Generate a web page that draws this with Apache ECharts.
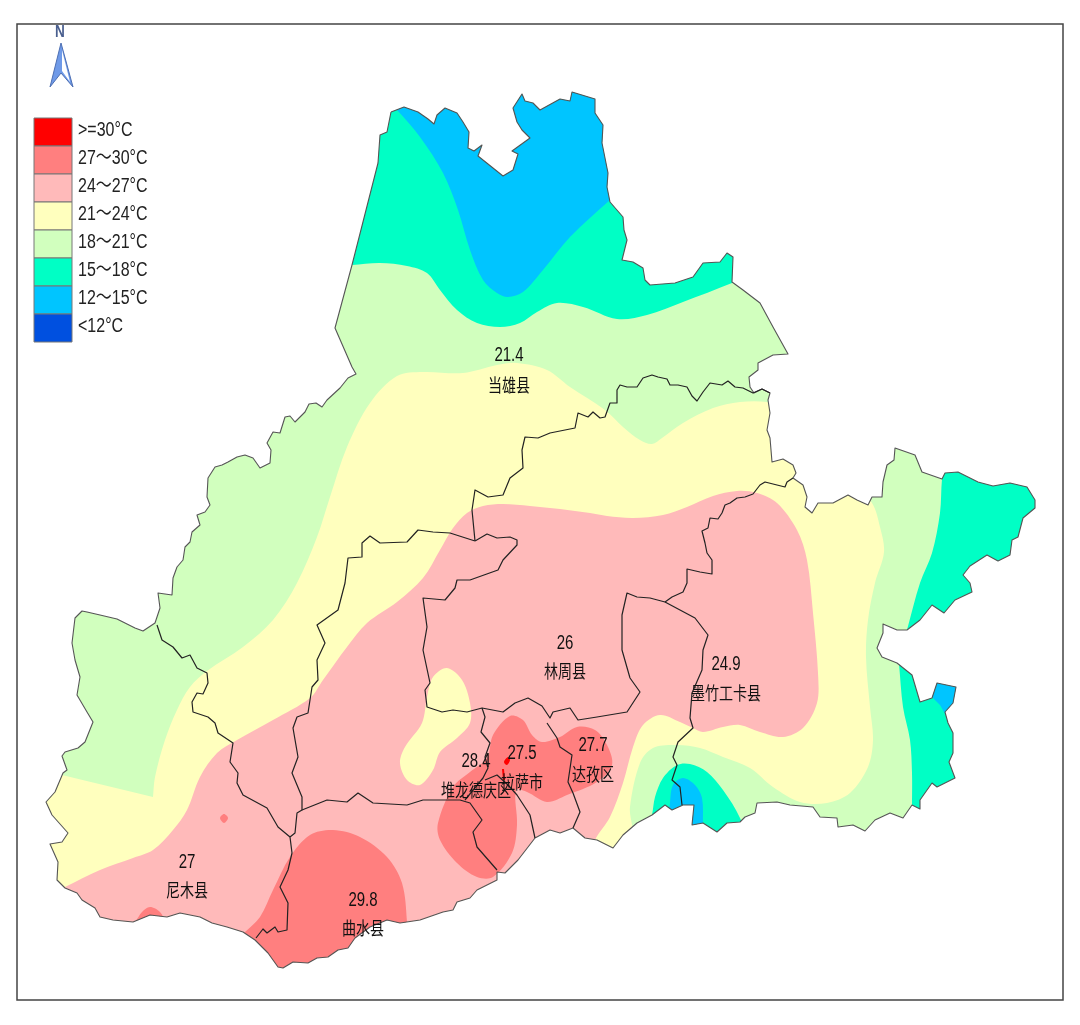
<!DOCTYPE html>
<html>
<head>
<meta charset="utf-8">
<style>html,body{margin:0;background:#fff}#map{width:1080px;height:1025px}</style>
<script src="https://cdn.jsdelivr.net/npm/echarts@6/dist/echarts.min.js"></script>
</head>
<body>
<div id="map"></div>
<script>
// map coordinates (x to the right, y downwards)
const outline = [[391,112],[404,107],[418,112],[428,119],[434,124],[437,115],[445,108],[457,113],[463,122],[469,132],[468,148],[474,151],[482,145],[478,156],[493,168],[503,176],[513,170],[518,154],[512,151],[530,138],[522,130],[517,122],[513,108],[522,94],[525,101],[533,103],[540,110],[560,99],[570,101],[572,92],[595,99],[595,113],[603,125],[602,143],[608,173],[607,187],[610,202],[623,217],[624,230],[627,240],[622,260],[633,262],[643,268],[645,280],[650,285],[675,283],[693,277],[703,263],[720,262],[727,253],[733,257],[732,282],[743,290],[760,303],[773,327],[788,354],[773,355],[758,363],[758,370],[749,377],[750,387],[754,393],[762,389],[770,393],[768,400],[770,413],[767,430],[770,438],[772,462],[783,459],[793,465],[796,473],[793,478],[803,485],[807,497],[805,507],[812,513],[818,503],[833,503],[848,495],[857,500],[868,505],[872,497],[882,497],[883,482],[887,465],[894,460],[895,448],[915,455],[922,472],[942,479],[945,473],[958,472],[978,482],[993,486],[1010,483],[1027,487],[1035,500],[1035,508],[1023,518],[1018,537],[1012,540],[1010,555],[998,561],[987,555],[970,566],[963,575],[970,583],[972,592],[955,600],[944,613],[932,605],[920,620],[907,630],[897,630],[883,624],[883,633],[877,648],[882,657],[897,663],[912,675],[920,702],[932,698],[937,683],[956,687],[953,703],[945,712],[948,723],[953,733],[953,753],[949,762],[955,778],[937,787],[932,783],[920,800],[920,809],[912,805],[903,818],[890,813],[875,820],[865,831],[853,825],[838,827],[837,818],[820,817],[813,807],[790,805],[777,802],[757,803],[755,813],[745,817],[740,822],[727,823],[717,832],[703,823],[692,825],[694,805],[683,805],[672,810],[665,805],[652,815],[637,823],[623,835],[613,848],[597,840],[585,838],[573,828],[560,833],[550,830],[535,838],[518,860],[505,873],[497,872],[497,880],[477,890],[470,898],[457,902],[453,910],[443,912],[420,920],[400,923],[387,920],[370,927],[355,938],[348,948],[338,950],[328,957],[317,958],[308,963],[293,962],[283,968],[278,967],[268,953],[255,940],[243,932],[227,927],[212,923],[200,917],[180,913],[167,917],[150,915],[133,922],[113,920],[100,917],[95,908],[82,900],[77,893],[65,888],[57,880],[58,862],[50,844],[62,842],[68,833],[52,815],[46,802],[55,792],[63,773],[67,770],[62,756],[65,752],[78,748],[85,742],[93,722],[87,712],[77,695],[80,677],[75,660],[72,643],[75,618],[82,611],[87,612],[100,615],[117,619],[123,622],[135,628],[143,631],[155,623],[160,608],[158,593],[172,595],[173,578],[177,567],[183,560],[185,547],[190,542],[192,532],[200,525],[197,515],[205,512],[210,505],[207,497],[208,478],[215,467],[222,465],[228,462],[237,457],[245,455],[253,458],[260,468],[270,463],[271,450],[267,443],[273,432],[280,433],[285,417],[290,416],[295,422],[305,412],[309,404],[316,403],[322,407],[327,400],[340,388],[348,378],[356,374],[352,367],[335,328],[352,265],[378,163],[380,135],[387,132],[391,112]];

const dangxiongSouth = [[770,393],[762,389],[753,393],[743,388],[735,387],[728,381],[722,385],[710,383],[703,392],[697,401],[692,396],[687,387],[678,385],[670,385],[667,379],[658,377],[652,375],[643,378],[637,387],[627,387],[620,385],[617,390],[617,403],[610,403],[605,417],[600,418],[593,412],[588,417],[578,413],[575,428],[550,433],[538,438],[525,437],[522,450],[523,468],[510,478],[503,495],[488,497],[475,490],[472,510],[475,541]];
const nimuNorth = [[475,541],[450,533],[433,532],[418,530],[407,542],[380,543],[370,536],[362,543],[362,557],[348,558],[345,583],[338,610],[317,625],[325,643],[317,660],[318,680],[312,687],[308,713],[297,717],[293,728],[298,757],[292,773],[302,797],[302,810],[297,813],[295,833],[290,837],[292,853],[288,870],[280,887],[288,903],[287,930],[278,932],[275,927],[267,933],[263,929],[256,938]];
const nimuWest = [[157,625],[162,640],[173,647],[182,658],[190,655],[197,668],[207,673],[208,683],[203,694],[197,693],[192,702],[193,712],[208,717],[215,723],[218,733],[233,743],[230,762],[238,773],[237,783],[243,795],[267,808],[278,827],[290,837]];
const qushuiNorth = [[302,810],[327,800],[347,802],[358,793],[373,803],[407,805],[423,800],[443,800],[460,800],[470,803],[482,820],[473,832],[477,847],[497,870]];
const linzhouWest = [[475,541],[487,534],[497,538],[510,537],[517,540],[517,545],[503,560],[498,570],[470,580],[457,580],[455,588],[445,600],[423,598],[427,627],[423,650],[430,683],[425,690],[427,707],[442,712],[453,710],[467,712],[482,708],[503,712],[515,703],[528,698],[542,706],[550,718],[553,712],[570,708],[578,720],[597,717],[627,712],[640,692],[630,678],[622,650],[622,615],[627,593],[637,597],[650,598],[665,602],[672,597],[683,592],[687,583],[687,569],[700,572],[712,574],[712,560],[707,553],[705,543],[702,531],[708,528],[710,518],[718,519],[722,513],[725,505],[730,503],[737,498],[745,497],[753,494],[760,485],[765,482],[777,485],[785,487],[787,482],[793,478]];
const mozhuWest = [[665,602],[695,618],[708,635],[703,650],[702,670],[692,693],[690,718],[693,728],[678,742],[673,757],[677,765],[672,780],[680,787],[682,805]];
const dazeWest = [[547,723],[557,738],[560,747],[572,755],[568,782],[573,793],[580,812],[573,828]];
const lhasaWest = [[482,708],[485,717],[481,732],[490,743],[485,757],[488,768],[483,778],[465,800]];
const lhasaSouth = [[485,780],[497,775],[508,785],[517,795],[530,815],[535,838]];

const zoneNorth15 = [[330,265],[352,265],[380,263],[407,266],[427,273],[440,290],[457,310],[477,323],[500,327],[520,323],[537,312],[557,303],[583,307],[617,319],[647,315],[683,302],[732,283],[800,255],[830,170],[720,50],[400,50],[330,120]];
const zoneNorth12 = [[385,100],[397,110],[420,137],[443,173],[458,210],[470,250],[483,280],[497,293],[508,297],[523,292],[543,270],[570,237],[610,200],[650,165],[680,90],[560,50],[420,60]];
const zoneYellow = [[20,765],[62,775],[153,797],[153,797],[155,777],[165,740],[177,710],[190,687],[207,671],[243,647],[273,620],[297,583],[317,537],[330,497],[347,447],[370,403],[397,376],[423,372],[463,373],[497,365],[517,363],[547,370],[570,387],[605,410],[623,427],[640,440],[652,444],[662,438],[683,423],[713,408],[740,402],[767,402],[800,410],[850,480],[872,503],[880,527],[884,552],[875,583],[868,620],[866,657],[870,707],[873,740],[868,767],[850,793],[827,803],[800,802],[773,787],[750,768],[723,757],[700,748],[677,745],[653,748],[640,763],[630,807],[632,825],[640,880],[600,960],[300,1000],[20,1000]];
const zonePink = [[30,905],[65,887],[100,870],[133,858],[153,850],[173,830],[187,810],[200,777],[217,753],[237,740],[273,720],[310,698],[323,680],[347,647],[367,623],[397,602],[423,578],[440,550],[453,528],[467,513],[483,506],[503,504],[530,506],[560,509],[590,513],[607,516],[633,518],[663,515],[687,507],[713,496],[737,491],[757,493],[777,503],[797,530],[807,560],[813,613],[818,673],[817,703],[803,728],[783,737],[760,732],[740,725],[723,727],[703,732],[693,728],[680,722],[660,715],[643,725],[633,747],[623,783],[610,817],[595,840],[580,880],[500,1000],[200,1000]];
const zoneYellowIsland = [[447,668],[462,680],[470,703],[470,723],[457,738],[440,752],[433,770],[420,785],[407,780],[400,763],[405,747],[422,723],[427,697],[433,677]];
const zoneLhasa27 = [[510,716],[523,720],[532,735],[542,742],[560,737],[577,727],[595,730],[607,745],[612,765],[597,782],[567,795],[547,802],[527,792],[516,790],[517,825],[512,853],[493,877],[477,877],[457,863],[440,840],[438,823],[453,787],[470,772],[487,758],[493,735]];
const zoneQushui27 = [[225,950],[245,932],[260,917],[273,890],[290,857],[310,835],[333,830],[360,837],[387,857],[402,883],[407,922],[410,990],[300,1010]];
const zoneSpot27 = [[224,814],[228,818],[224,823],[220,818]];
const zoneNimuEdge27 = [[125,932],[135,922],[142,912],[150,907],[160,912],[167,925],[175,940]];
const zoneLhasa30 = [[508,757],[510,760],[507,765],[504,762]];
const zoneLhasaSliver30 = [[502,769],[504,769],[505,780],[503,780]];
const zoneSouth15 = [[645,840],[652,815],[655,797],[663,778],[677,765],[690,764],[707,772],[723,790],[740,818],[750,850],[700,870]];
const zoneSouth12 = [[668,830],[670,803],[673,785],[683,778],[695,785],[702,798],[703,825],[704,850],[685,860]];
const zoneEast15 = [[946,455],[942,479],[940,513],[932,553],[920,583],[907,630],[904,642],[1060,642],[1060,455]];
const zoneEastLow15 = [[898,655],[899,664],[903,707],[910,740],[912,773],[912,805],[912,835],[1000,835],[1000,655]];
const zoneEast12 = [[926,692],[933,698],[940,705],[944,712],[950,722],[975,722],[975,670],[926,670]];

const legendLabels = ['>=30°C', '27～30°C', '24～27°C', '21～24°C', '18～21°C', '15～18°C', '12～15°C', '<12°C'];
const legendColors = ['#ff0000', '#ff7f7f', '#ffbaba', '#ffffbe', '#d1ffbe', '#00ffc5', '#00c5ff', '#0050e0'];
const legendTop = [118, 146, 174, 202, 230, 258, 286, 314];

const stationNames = ['当雄县', '林周县', '墨竹工卡县', '堆龙德庆区', '拉萨市', '达孜区', '尼木县', '曲水县'];
const stationTemps = ['21.4', '26', '24.9', '28.4', '27.5', '27.7', '27', '29.8'];
const stationX = [509, 565, 726, 476, 522, 593, 187, 363];
const stationTempY = [355, 643, 664, 761, 753, 745, 862, 900];
const stationNameY = [385, 671, 693, 790, 782, 774, 890, 928];

const frame = [[17, 24], [1063, 1000]];
const arrowBody = [[61, 43], [50, 87], [61, 73], [73, 87]];
const arrowInner = [[62, 50], [62, 71], [70, 82]];

const [RED, C27, C24, C21, , C15, C12] = legendColors;

function pts(api, list) {
  return list.map((p) => api.coord(p));
}

// one coloured zone, cut to the map outline
function zone(points, color, smooth) {
  return {
    type: 'custom',
    silent: true,
    data: [0],
    renderItem: (params, api) => ({
      type: 'polygon',
      shape: { points: pts(api, points), smooth: smooth },
      style: { fill: color },
      clipPath: { type: 'polygon', shape: { points: pts(api, outline) } },
    }),
  };
}

function boundary(points, color, width) {
  return {
    type: 'line',
    silent: true,
    showSymbol: false,
    symbol: 'none',
    data: points,
    lineStyle: { color: color, width: width, join: 'round' },
  };
}

const SMOOTH = 0.33;

const series = [
  zone(outline, legendColors[4], 0),
  zone(zoneNorth15, C15, SMOOTH),
  zone(zoneNorth12, C12, SMOOTH),
  zone(zoneYellow, C21, SMOOTH),
  zone(zonePink, C24, SMOOTH),
  zone(zoneYellowIsland, C21, SMOOTH),
  zone(zoneLhasa27, C27, SMOOTH),
  zone(zoneQushui27, C27, SMOOTH),
  zone(zoneSpot27, C27, SMOOTH),
  zone(zoneNimuEdge27, C27, SMOOTH),
  zone(zoneLhasa30, RED, SMOOTH),
  zone(zoneLhasaSliver30, RED, 0),
  zone(zoneSouth15, C15, SMOOTH),
  zone(zoneSouth12, C12, SMOOTH),
  zone(zoneEast15, C15, SMOOTH),
  zone(zoneEastLow15, C15, SMOOTH),
  zone(zoneEast12, C12, 0),
  boundary(outline, '#555', 1.1),
  boundary(dangxiongSouth, '#222', 1.2),
  boundary(nimuNorth, '#222', 1.2),
  boundary(nimuWest, '#222', 1.2),
  boundary(qushuiNorth, '#222', 1.2),
  boundary(linzhouWest, '#222', 1.2),
  boundary(mozhuWest, '#222', 1.2),
  boundary(dazeWest, '#222', 1.2),
  boundary(lhasaWest, '#222', 1.2),
  boundary(lhasaSouth, '#222', 1.2),
  {
    // frame, north arrow
    type: 'custom',
    silent: true,
    data: [0],
    renderItem: (params, api) => {
      const a = api.coord(frame[0]);
      const b = api.coord(frame[1]);
      const n = api.coord([60, 32]);
      return {
        type: 'group',
        children: [
          { type: 'rect', shape: { x: a[0], y: a[1], width: b[0] - a[0], height: b[1] - a[1] }, style: { fill: 'none', stroke: '#444', lineWidth: 1.5 } },
          { type: 'polygon', shape: { points: pts(api, arrowBody) }, style: { fill: '#6f9ae8', stroke: '#4d6fb3', lineWidth: 1 } },
          { type: 'polygon', shape: { points: pts(api, arrowInner) }, style: { fill: '#fff' } },
          { type: 'text', x: n[0], y: n[1], scaleX: 0.8, style: { text: 'N', x: 0, y: 0, font: 'bold 17px "Liberation Sans"', fill: '#4a5f8f', align: 'center', verticalAlign: 'middle' } },
        ],
      };
    },
  },
  {
    // legend
    type: 'custom',
    silent: true,
    data: legendLabels.map((_, i) => i),
    encode: { x: 0 },
    renderItem: (params, api) => {
      const i = api.value(0);
      const p = api.coord([34, legendTop[i]]);
      const q = api.coord([72, legendTop[i] + 28]);
      const t = api.coord([78, legendTop[i] + 12]);
      return {
        type: 'group',
        children: [
          { type: 'rect', shape: { x: p[0], y: p[1], width: q[0] - p[0], height: q[1] - p[1] }, style: { fill: legendColors[i], stroke: '#777', lineWidth: 1 } },
          { type: 'text', x: t[0], y: t[1], scaleX: 0.8, style: { text: legendLabels[i], x: 0, y: 0, font: '20px "Liberation Sans","Noto Sans CJK SC"', fill: '#222', align: 'left', verticalAlign: 'middle' } },
        ],
      };
    },
  },
  {
    // station values and county names
    type: 'custom',
    silent: true,
    data: stationNames.map((_, i) => i),
    encode: { x: 0 },
    z: 5,
    renderItem: (params, api) => {
      const i = api.value(0);
      const t = api.coord([stationX[i], stationTempY[i]]);
      const c = api.coord([stationX[i], stationNameY[i]]);
      return {
        type: 'group',
        children: [
          { type: 'text', x: t[0], y: t[1], scaleX: 0.75, style: { text: stationTemps[i], x: 0, y: 0, font: '20px "Liberation Sans"', fill: '#111', align: 'center', verticalAlign: 'middle' } },
          { type: 'text', x: c[0], y: c[1], scaleX: 0.78, style: { text: stationNames[i], x: 0, y: 0, font: '18px "Noto Sans CJK SC"', fill: '#111', align: 'center', verticalAlign: 'middle' } },
        ],
      };
    },
  },
];

const chart = echarts.init(document.getElementById('map'));
chart.setOption({
  animation: false,
  backgroundColor: '#fff',
  grid: { left: 0, right: 0, top: 0, bottom: 0 },
  xAxis: { type: 'value', min: 0, max: 1080, show: false },
  yAxis: { type: 'value', min: 0, max: 1025, inverse: true, show: false },
  series,
});
</script>
</body>
</html>
